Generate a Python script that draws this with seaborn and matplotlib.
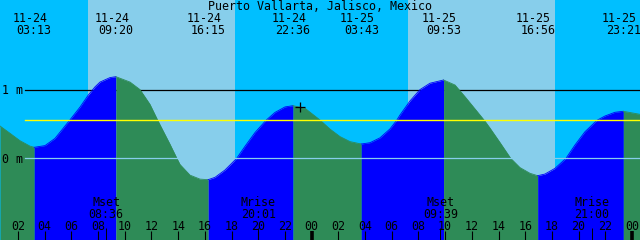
import matplotlib
matplotlib.use("Agg")
import matplotlib.pyplot as plt
import seaborn as sns
import numpy as np
import pandas as pd

# ---------------- data ----------------
title = "Puerto Vallarta, Jalisco, Mexico"

# hours since 11-24 00:00, tide level in metres
tide_hours = [0.652, 1.401, 2.150, 2.899, 3.217, 4.023, 4.772, 5.521, 5.896, 6.645,
              7.245, 7.769, 8.144, 8.893, 9.333, 10.391, 11.140, 11.889, 12.414, 12.638,
              13.387, 13.889, 14.137, 14.886, 15.635, 16.250, 16.759, 17.508, 18.385, 19.007,
              19.756, 20.580, 21.255, 22.004, 22.600, 23.503, 24.627, 25.376, 26.125, 26.874,
              27.717, 28.370, 29.119, 29.869, 30.371, 30.618, 31.367, 32.116, 32.866, 33.883,
              34.739, 35.488, 36.612, 36.986, 37.361, 38.110, 38.912, 39.608, 40.357, 40.933,
              41.481, 42.231, 43.055, 43.729, 44.478, 45.377, 45.977, 46.726, 47.350, 48.600]
tide_levels = [0.470, 0.364, 0.256, 0.177, 0.160, 0.185, 0.290, 0.470, 0.560, 0.745,
               0.915, 1.040, 1.110, 1.175, 1.188, 1.110, 1.000, 0.785, 0.575, 0.488,
               0.205, 0.005, -0.090, -0.245, -0.303, -0.311, -0.277, -0.170, 0.000, 0.175,
               0.375, 0.553, 0.668, 0.748, 0.766, 0.728, 0.557, 0.425, 0.316, 0.243,
               0.208, 0.227, 0.298, 0.428, 0.553, 0.630, 0.835, 1.000, 1.093, 1.140,
               1.067, 0.897, 0.630, 0.540, 0.440, 0.230, 0.000, -0.135, -0.218, -0.253,
               -0.229, -0.146, 0.000, 0.194, 0.387, 0.553, 0.616, 0.670, 0.684, 0.640]

event_hours = [3.217, 9.333, 16.250, 22.600, 27.717, 33.883, 40.933, 47.350]
event_dates = ["11-24", "11-24", "11-24", "11-24", "11-25", "11-25", "11-25", "11-25"]
event_times = ["03:13", "09:20", "16:15", "22:36", "03:43", "09:53", "16:56", "23:21"]

sunrise_hours = [7.25, 31.22]
sunset_hours = [18.25, 42.23]

moon_hours = [8.600, 20.017, 33.650, 45.000]
moon_names = ["Mset", "Mrise", "Mset", "Mrise"]
moon_times = ["08:36", "20:01", "09:39", "21:00"]

hour_ticks = list(range(2, 49, 2))
hour_labels = ["%02d" % (h % 24) for h in hour_ticks]

msl_level = 0.553
depth_lines = [1.0, 0.0]
depth_labels = ["1 m", "0 m"]
now_hour, now_level = 23.13, 0.742

# ---------------- style ----------------
NIGHT = "#00BFFF"
DAY = "#87CEEB"
FLOOD = "#0000FF"
EBB = "#2E8B57"
MSL = "#FFFF00"
DATUM = "#87CEEB"

W, H = 640, 240
fig = plt.figure(figsize=(W / 100, H / 100), dpi=100)
ax = fig.add_axes([0, 0, 1, 1])
ax.set_axis_off()
ax.set_facecolor(NIGHT)
fig.patch.set_facecolor(NIGHT)

XMIN, XMAX = 0.6518, 48.5998
YMIN, YMAX = -1.1892, 2.3042
ax.set_xlim(XMIN, XMAX)
ax.set_ylim(YMIN, YMAX)

def fy(px):
    return 1 - px / H

FONT = dict(family="DejaVu Sans Mono", fontsize=8.4, color="black")

# sky
ax.add_patch(plt.Rectangle((XMIN, YMIN), XMAX - XMIN, YMAX - YMIN, color=NIGHT, zorder=0, lw=0))
for sr, ss in zip(sunrise_hours, sunset_hours):
    ax.axvspan(sr, ss, color=DAY, lw=0, zorder=0.5)

# 1 m line (below water)
ax.axhline(depth_lines[0], xmin=25 / W, xmax=1, color="black", lw=0.9, zorder=1)

# water, split into rising / falling segments
df = pd.DataFrame({"t": tide_hours, "h": tide_levels})
lev = np.array(tide_levels)
ext = [0] + [i for i in range(1, len(lev) - 1)
             if (lev[i] - lev[i - 1]) * (lev[i + 1] - lev[i]) < 0] + [len(lev) - 1]
for a, b in zip(ext[:-1], ext[1:]):
    seg = df.iloc[a:b + 1]
    col = FLOOD if seg["h"].iloc[-1] > seg["h"].iloc[0] else EBB
    ax.fill_between(seg["t"], seg["h"], YMIN, color=col, lw=0, zorder=2)
    sns.lineplot(data=seg, x="t", y="h", color=col, lw=0.6, ax=ax, zorder=2.1,
                 sort=False, estimator=None)

# datum and MSL lines
ax.axhline(depth_lines[1], xmin=25 / W, xmax=1, color=DATUM, lw=0.9, zorder=3)
ax.axhline(msl_level, xmin=25 / W, xmax=1, color=MSL, lw=1.0, zorder=3)

# depth labels
for lvl, lab in zip(depth_lines, depth_labels):
    ax.annotate(lab, xy=(2 / W, lvl), xycoords=("axes fraction", "data"),
                xytext=(0, -3.1), textcoords="offset points",
                ha="left", va="baseline", zorder=5, **FONT)

# now marker
ax.plot([now_hour], [now_level], marker="+", ms=6.8, mew=0.9, color="black",
        ls="none", zorder=5)

xt = ax.get_xaxis_transform()

# title
ax.text(0.5, fy(9.5), title, transform=ax.transAxes, ha="center", va="baseline",
        zorder=5, **FONT)

# tide event labels
for t, d, tm in zip(event_hours, event_dates, event_times):
    ax.annotate(d, xy=(t, fy(21.5)), xycoords=xt, xytext=(-2.9, 0),
                textcoords="offset points", ha="center", va="baseline", zorder=5, **FONT)
    ax.text(t, fy(33.5), tm, transform=xt, ha="center", va="baseline", zorder=5, **FONT)

# hour ticks and labels
for h, lab in zip(hour_ticks, hour_labels):
    thick = (h % 24 == 0)
    ax.vlines(h, 0, 9 / H, transform=xt, color="black", lw=2.6 if thick else 0.8, zorder=5)
    ax.text(h, fy(229.5), lab, transform=xt, ha="center", va="baseline", zorder=5, **FONT)

# moon events
for t, nm, tm in zip(moon_hours, moon_names, moon_times):
    ax.vlines(t, 0, 12 / H, transform=xt, color="black", lw=0.7, zorder=5)
    ax.text(t, fy(205.5), nm, transform=xt, ha="center", va="baseline", zorder=5, **FONT)
    ax.text(t, fy(218), tm, transform=xt, ha="center", va="baseline", zorder=5, **FONT)

fig.savefig("out.png", dpi=100, facecolor=NIGHT)
